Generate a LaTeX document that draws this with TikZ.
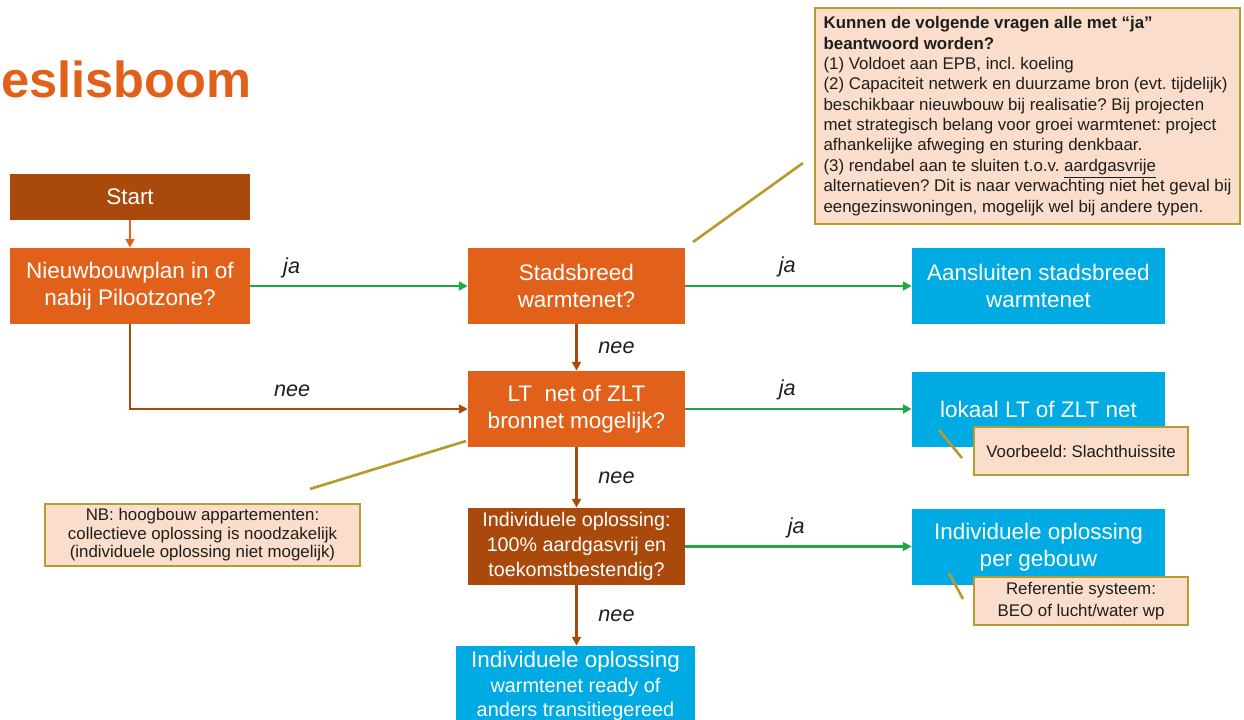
\documentclass[tikz,border=0pt]{standalone}
\usepackage{fontspec}
\setmainfont{Liberation Sans}
\usepackage{tikz}
\usetikzlibrary{arrows.meta}
\frenchspacing

\definecolor{oranje}{HTML}{E2611A}
\definecolor{bruin}{HTML}{A9490C}
\definecolor{blauw}{HTML}{00AAE3}
\definecolor{groen}{HTML}{1DA745}
\definecolor{goud}{HTML}{B89A2E}
\definecolor{zalm}{HTML}{FBDDCB}
\definecolor{tekst}{HTML}{1E1E1E}

\tikzset{
    blok/.style={text=white, align=center, inner sep=0pt, font=\fontsize{12.8}{15.3}\selectfont},
    vraag/.style={blok, fill=oranje, minimum width=4.34cm, minimum height=1.52cm},
    antwoord/.style={blok, fill=blauw, minimum width=5.06cm, minimum height=1.52cm},
    opmerking/.style={fill=zalm, draw=goud, line width=1.5pt, text=tekst, align=center, inner sep=0pt, font=\fontsize{9.6}{11}\selectfont},
    pijl/.style={line width=1.6pt, -{Triangle[length=5pt,width=5pt]}},
    japijl/.style={pijl, draw=groen},
    neepijl/.style={pijl, draw=bruin},
    antw/.style={text=tekst, font=\itshape\fontsize{12.3}{14}\selectfont},
    wijzer/.style={draw=goud, line width=1.5pt},
}

\begin{document}
\begin{tikzpicture}[x=0.02cm,y=-0.02cm]
    \useasboundingbox (0,0) rectangle (1244,720);

    \node[anchor=base west, inner sep=0pt, text=oranje, font=\bfseries\fontsize{28.8}{30}\selectfont] (titel) at (1,97) {eslisboom};

    \node[blok, fill=bruin, minimum width=4.8cm, minimum height=0.92cm] (start) at (130,197) {Start};
    \node[vraag, minimum width=4.8cm] (nieuw) at (130,286) {Nieuwbouwplan in of\\nabij Pilootzone?};
    \node[vraag] (stad) at (576.5,286) {Stadsbreed\\warmtenet?};
    \node[vraag] (lt) at (576.5,409) {LT\ \ net of ZLT\\bronnet mogelijk?};
    \node[vraag, fill=bruin, minimum height=1.54cm, font=\fontsize{11.2}{14.2}\selectfont] (indiv) at (576.5,546.5) {Individuele oplossing:\\100\% aardgasvrij en\\toekomstbestendig?};
    \node[blok, fill=blauw, minimum width=4.78cm, minimum height=1.6cm, font=\fontsize{11.3}{13.8}\selectfont] (onder) at (575.5,686) {{\fontsize{12.8}{14.7}\selectfont Individuele oplossing}\\warmtenet ready of\\anders transitiegereed};

    \node[antwoord] (aansl) at (1038.5,286) {Aansluiten stadsbreed\\warmtenet};
    \node[antwoord, minimum height=1.5cm] (lokaal) at (1038.5,409.5) {lokaal LT of ZLT net};
    \node[antwoord] (pergeb) at (1038.5,547) {Individuele oplossing\\per gebouw};

    \draw[pijl, draw=oranje] (start) -- (nieuw);
    \draw[japijl] (nieuw.east) -- (stad.west) node[antw, pos=.19, yshift=.36cm] {ja};
    \draw[neepijl] (nieuw.south) |- (lt.west) node[antw, pos=.74, yshift=.36cm] {nee};
    \foreach \a/\b/\p in {stad/aansl/.45, lt/lokaal/.45, indiv/pergeb/.49}
        \draw[japijl] (\a.east) -- (\a.east -| \b.west) node[antw, pos=\p, yshift=.38cm] {ja};
    \foreach \a/\b in {stad/lt, lt/indiv, indiv/onder}
        \draw[neepijl] (\a.south) -- (\a.south |- \b.north) node[antw, midway, xshift=.8cm] {nee};

    \coordinate (w1a) at (693,242);
    \coordinate (w1b) at (803,163);
    \coordinate (w2a) at (310,489);
    \coordinate (w2b) at (466,441);
    \coordinate (w3a) at (939,430);
    \coordinate (w3b) at (962,458);
    \coordinate (w4a) at (949,573);
    \coordinate (w4b) at (963,599);
    \draw[wijzer] (w1a) -- (w1b);
    \draw[wijzer] (w2a) -- (w2b);
    \draw[wijzer] (w3a) -- (w3b);
    \draw[wijzer] (w4a) -- (w4b);

    \node[opmerking, align=left, minimum width=8.5cm, minimum height=4.32cm, font=\fontsize{9.6}{11.6}\selectfont] (vragen) at (1027.5,116)
        {\textbf{Kunnen de volgende vragen alle met “ja”}\\
         \textbf{beantwoord worden?}\\
         (1) Voldoet aan EPB, incl. koeling\\
         (2) Capaciteit netwerk en duurzame bron (evt. tijdelijk)\\
         beschikbaar nieuwbouw bij realisatie? Bij projecten\\
         met strategisch belang voor groei warmtenet: project\\
         afhankelijke afweging en sturing denkbaar.\\
         (3) rendabel aan te sluiten t.o.v. \underline{aardgasvrije}\\
         alternatieven? Dit is naar verwachting niet het geval bij\\
         eengezinswoningen, mogelijk wel bij andere typen.};
    \node[opmerking, minimum width=6.3cm, minimum height=1.24cm, font=\fontsize{9.6}{10.5}\selectfont] (nb) at (202.5,535)
        {NB: hoogbouw appartementen:\\collectieve oplossing is noodzakelijk\\(individuele oplossing niet mogelijk)};
    \node[opmerking, minimum width=4.28cm, minimum height=0.96cm] (voorbeeld) at (1081,451) {Voorbeeld: Slachthuissite};
    \node[opmerking, minimum width=4.28cm, minimum height=0.96cm, font=\fontsize{9.6}{12.5}\selectfont] (referentie) at (1081,601) {Referentie systeem:\\BEO of lucht/water wp};

\end{tikzpicture}
\end{document}
